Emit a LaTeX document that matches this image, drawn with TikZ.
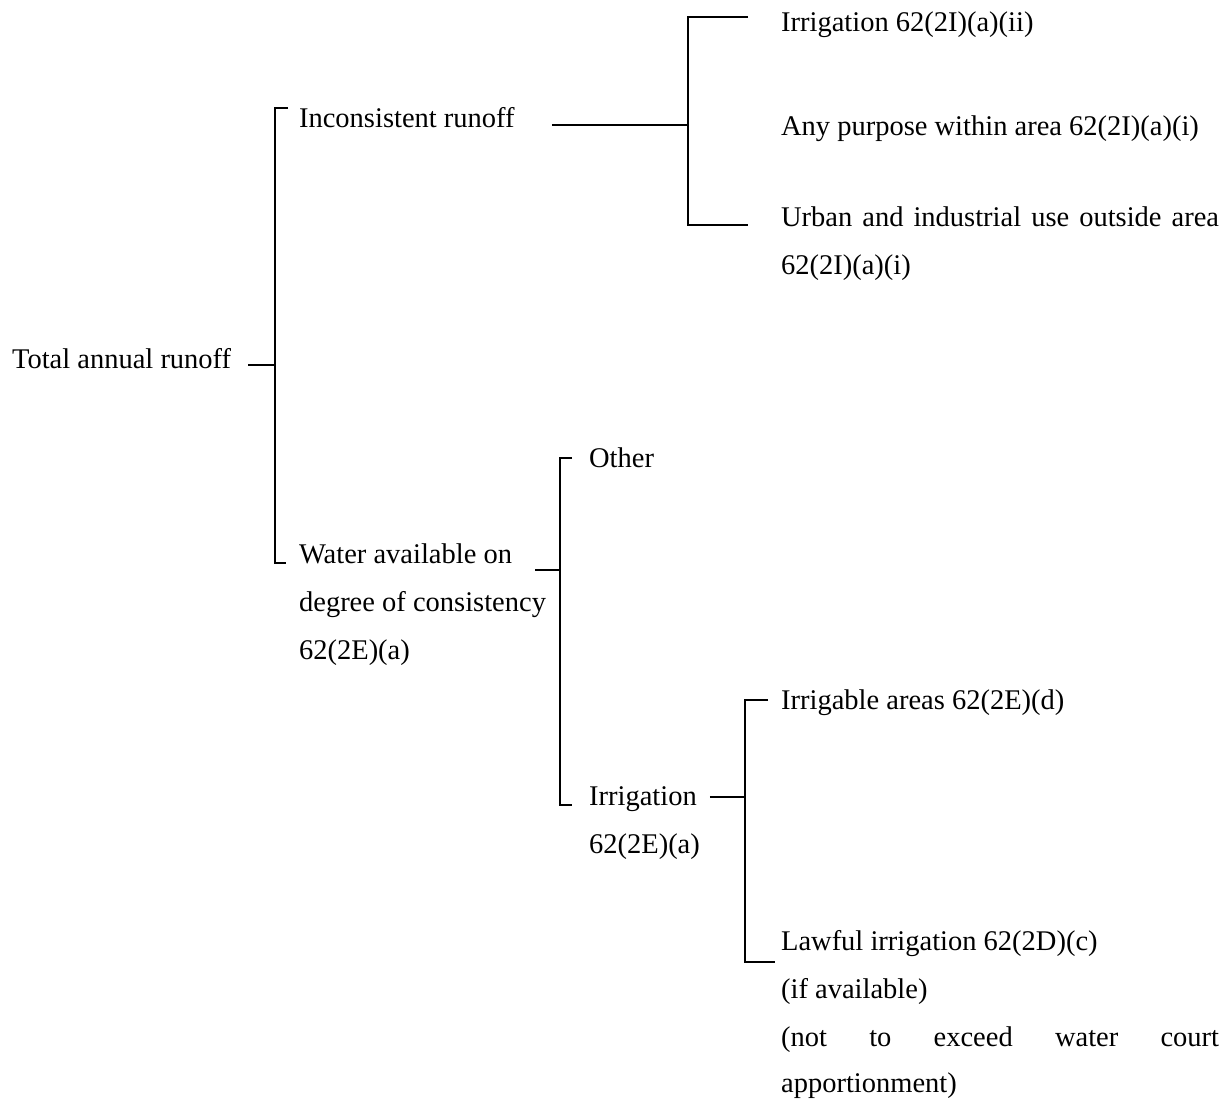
\documentclass[tikz,border=0pt]{standalone}
\usepackage{fontspec}
\setmainfont{Liberation Serif}
\begin{document}
\begin{tikzpicture}[x=1pt,y=-1pt,line width=2.2pt,
  lbl/.style={anchor=base west,inner sep=0pt,font=\fontsize{28.5}{34}\selectfont}]
\useasboundingbox[fill=white] (0,0) rectangle (1230,1100);
% texts
\node[lbl] (root) at (11,368) {Total annual runoff};
\node[lbl] (inc) at (298,127) {Inconsistent runoff};
\node[lbl] (irr1) at (780,31) {Irrigation 62(2I)(a)(ii)};
\node[lbl] (any) at (780,135) {Any purpose within area 62(2I)(a)(i)};
\node[lbl] (urb) at (780,226) {\makebox[438pt][s]{Urban and industrial use outside area}};
\node[lbl] (urb2) at (780,274) {62(2I)(a)(i)};
\node[lbl] (wat) at (298,563) {Water available on};
\node[lbl] (wat2) at (298,611) {degree of consistency};
\node[lbl] (wat3) at (298,659) {62(2E)(a)};
\node[lbl] (oth) at (588,467) {Other};
\node[lbl] (irr2) at (588,805) {Irrigation};
\node[lbl] (irr3) at (588,853) {62(2E)(a)};
\node[lbl] (irga) at (780,709) {Irrigable areas 62(2E)(d)};
\node[lbl] (law) at (780,950) {Lawful irrigation 62(2D)(c)};
\node[lbl] (law2) at (780,998) {(if available)};
\node[lbl] (law3) at (780,1046) {\makebox[438pt][s]{(not to exceed water court}};
\node[lbl] (law4) at (780,1092) {apportionment)};
% bracket spines
\coordinate (s1t) at (275,108); \coordinate (s1b) at (275,563);
\coordinate (s2t) at (688,17);  \coordinate (s2b) at (688,225);
\coordinate (s3t) at (560,458); \coordinate (s3b) at (560,805);
\coordinate (s4t) at (745,700); \coordinate (s4b) at (745,962);
% connectors
\draw ([xshift=16pt,yshift=3pt]root.base east) -- ([yshift=3pt]root.base -| s1t);
\draw ([xshift=-10pt]s1t -| inc.west) -- (s1t) -- (s1b) -- ([xshift=-12pt]s1b -| wat.west);
\draw ([xshift=36pt,yshift=2pt]inc.base east) -- ([yshift=2pt]inc.base -| s2t);
\draw ([xshift=-32pt]s2t -| irr1.west) -- (s2t) -- (s2b) -- ([xshift=-32pt]s2b -| urb.west);
\draw ([xshift=22pt,yshift=-7pt]wat.base east) -- ([yshift=-7pt]wat.base -| s3t);
\draw ([xshift=-16pt]s3t -| oth.west) -- (s3t) -- (s3b) -- ([xshift=-16pt]s3b -| irr2.west);
\draw ([xshift=12pt,yshift=8pt]irr2.base east) -- ([yshift=8pt]irr2.base -| s4t);
\draw ([xshift=-12pt]s4t -| irga.west) -- (s4t) -- (s4b) -- ([xshift=-5pt]s4b -| law.west);
\end{tikzpicture}
\end{document}
